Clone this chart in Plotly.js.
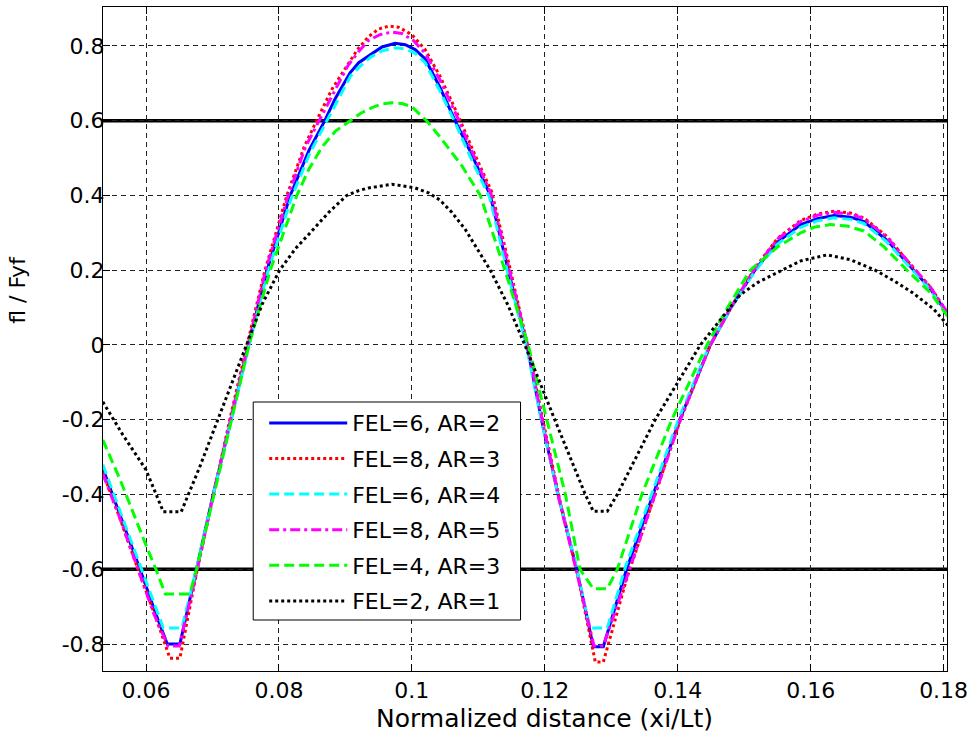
<!DOCTYPE html>
<html>
<head>
<meta charset="utf-8">
<script src="https://cdn.plot.ly/plotly-3.0.1.min.js"></script>
<style>html,body{margin:0;padding:0;background:#fff;}#chart{width:971px;height:740px;}</style>
</head>
<body>
<div id="chart"></div>
<script>
// Series names
var names = ["FEL=6, AR=2", "FEL=8, AR=3", "FEL=6, AR=4", "FEL=8, AR=5", "FEL=4, AR=3", "FEL=2, AR=1"];

// FEL=6, AR=2 (blue)
var bx = [0.0535, 0.056, 0.0591, 0.0615, 0.0632, 0.0651, 0.0676, 0.0701, 0.0728, 0.0754, 0.0782, 0.0817, 0.0845, 0.0869, 0.0885, 0.0907, 0.092, 0.0937, 0.0955, 0.0975, 0.099, 0.1005, 0.102, 0.1042, 0.1065, 0.109, 0.1118, 0.1145, 0.1173, 0.1195, 0.122, 0.1248, 0.1273, 0.1288, 0.1323, 0.1363, 0.1403, 0.1449, 0.148, 0.1516, 0.155, 0.1585, 0.161, 0.1635, 0.166, 0.168, 0.1715, 0.1755, 0.178, 0.181];
var by = [-0.33, -0.45, -0.60, -0.72, -0.80, -0.80, -0.60, -0.40, -0.20, 0.0, 0.20, 0.40, 0.52, 0.60, 0.66, 0.728, 0.755, 0.776, 0.797, 0.807, 0.803, 0.79, 0.765, 0.69, 0.60, 0.51, 0.40, 0.20, 0.0, -0.20, -0.40, -0.60, -0.807, -0.807, -0.60, -0.40, -0.20, 0.0, 0.10, 0.20, 0.275, 0.322, 0.338, 0.346, 0.342, 0.33, 0.28, 0.20, 0.15, 0.072];

// FEL=8, AR=3 (red)
var rx = [0.0535, 0.056, 0.059, 0.0615, 0.0636, 0.0651, 0.0676, 0.0700, 0.0726, 0.0752, 0.0779, 0.0812, 0.0838, 0.0862, 0.088, 0.090, 0.0918, 0.0935, 0.095, 0.0965, 0.098, 0.1, 0.102, 0.1042, 0.1068, 0.1092, 0.112, 0.1147, 0.1174, 0.1197, 0.1222, 0.125, 0.1276, 0.1288, 0.1324, 0.1364, 0.1404, 0.1449, 0.148, 0.1516, 0.155, 0.1585, 0.161, 0.1635, 0.166, 0.168, 0.1715, 0.1755, 0.178, 0.181];
var ry = [-0.34, -0.46, -0.61, -0.73, -0.838, -0.838, -0.61, -0.41, -0.20, 0.0, 0.20, 0.40, 0.53, 0.62, 0.685, 0.74, 0.79, 0.825, 0.845, 0.853, 0.85, 0.83, 0.79, 0.72, 0.62, 0.52, 0.41, 0.21, 0.0, -0.20, -0.41, -0.62, -0.848, -0.848, -0.62, -0.41, -0.20, 0.0, 0.10, 0.205, 0.285, 0.333, 0.35, 0.358, 0.353, 0.34, 0.29, 0.205, 0.155, 0.075];

// FEL=6, AR=4 (cyan)
var cx = [0.0535, 0.056, 0.0592, 0.061, 0.0626, 0.0654, 0.0677, 0.0702, 0.0729, 0.0755, 0.0783, 0.0819, 0.0847, 0.0871, 0.0888, 0.0908, 0.0922, 0.0938, 0.0956, 0.0975, 0.099, 0.1005, 0.102, 0.1042, 0.1065, 0.109, 0.1117, 0.1144, 0.1172, 0.1194, 0.1219, 0.1247, 0.1268, 0.1294, 0.1322, 0.1362, 0.1402, 0.1448, 0.148, 0.1516, 0.155, 0.1585, 0.161, 0.1635, 0.166, 0.168, 0.1715, 0.1755, 0.178, 0.181];
var cy = [-0.32, -0.44, -0.59, -0.68, -0.757, -0.757, -0.59, -0.395, -0.195, 0.0, 0.195, 0.395, 0.515, 0.595, 0.65, 0.72, 0.745, 0.77, 0.787, 0.795, 0.792, 0.78, 0.755, 0.68, 0.595, 0.495, 0.395, 0.195, 0.0, -0.195, -0.395, -0.59, -0.757, -0.757, -0.59, -0.395, -0.195, 0.0, 0.098, 0.197, 0.27, 0.315, 0.332, 0.34, 0.336, 0.325, 0.275, 0.197, 0.148, 0.07];

// FEL=8, AR=5 (magenta)
var mx = [0.0535, 0.056, 0.059, 0.0612, 0.0633, 0.065, 0.0676, 0.07, 0.0727, 0.0753, 0.078, 0.0814, 0.084, 0.0865, 0.0883, 0.0903, 0.092, 0.0935, 0.0952, 0.097, 0.0985, 0.1002, 0.102, 0.1042, 0.1067, 0.1091, 0.1119, 0.1146, 0.1174, 0.1196, 0.1221, 0.1249, 0.1274, 0.1288, 0.1324, 0.1364, 0.1404, 0.1449, 0.148, 0.1516, 0.155, 0.1585, 0.161, 0.1635, 0.166, 0.168, 0.1715, 0.1755, 0.178, 0.181];
var my = [-0.345, -0.46, -0.61, -0.72, -0.805, -0.805, -0.61, -0.41, -0.20, 0.0, 0.20, 0.40, 0.53, 0.615, 0.675, 0.745, 0.785, 0.815, 0.83, 0.837, 0.833, 0.815, 0.78, 0.71, 0.615, 0.515, 0.405, 0.205, 0.0, -0.20, -0.41, -0.615, -0.805, -0.805, -0.615, -0.41, -0.20, 0.0, 0.10, 0.205, 0.283, 0.33, 0.347, 0.355, 0.35, 0.338, 0.288, 0.205, 0.155, 0.075];

// FEL=4, AR=3 (green)
var gx = [0.0535, 0.0561, 0.0601, 0.0615, 0.0629, 0.0666, 0.0676, 0.0702, 0.0728, 0.0755, 0.0787, 0.0827, 0.0845, 0.0865, 0.0885, 0.0907, 0.0925, 0.094, 0.0955, 0.097, 0.0985, 0.100, 0.1022, 0.1042, 0.1075, 0.1103, 0.112, 0.114, 0.1175, 0.1203, 0.1231, 0.1253, 0.1273, 0.1294, 0.1309, 0.1346, 0.1391, 0.1444, 0.1475, 0.1509, 0.155, 0.1585, 0.1605, 0.163, 0.1655, 0.168, 0.171, 0.1745, 0.178, 0.181];
var gy = [-0.254, -0.36, -0.54, -0.60, -0.666, -0.666, -0.60, -0.40, -0.20, 0.0, 0.20, 0.40, 0.47, 0.53, 0.572, 0.60, 0.622, 0.635, 0.645, 0.648, 0.646, 0.637, 0.60, 0.557, 0.48, 0.40, 0.31, 0.20, 0.0, -0.20, -0.40, -0.60, -0.652, -0.652, -0.60, -0.40, -0.20, 0.0, 0.10, 0.20, 0.262, 0.30, 0.315, 0.322, 0.318, 0.305, 0.263, 0.20, 0.14, 0.067];

// FEL=2, AR=1 (black)
var kx = [0.0535, 0.0565, 0.06, 0.0626, 0.0653, 0.068, 0.0708, 0.0752, 0.0775, 0.0801, 0.0825, 0.0847, 0.0875, 0.0902, 0.092, 0.0935, 0.097, 0.1005, 0.1025, 0.1042, 0.106, 0.108, 0.1118, 0.1145, 0.117, 0.1215, 0.1261, 0.1273, 0.1294, 0.1309, 0.1366, 0.1434, 0.1465, 0.1494, 0.152, 0.1547, 0.1585, 0.1625, 0.166, 0.1697, 0.1725, 0.1754, 0.1785, 0.181];
var ky = [-0.152, -0.24, -0.334, -0.446, -0.446, -0.33, -0.2, 0.0, 0.11, 0.2, 0.258, 0.30, 0.355, 0.40, 0.413, 0.42, 0.43, 0.42, 0.407, 0.388, 0.355, 0.31, 0.2, 0.105, 0.0, -0.2, -0.4, -0.445, -0.445, -0.4, -0.2, 0.0, 0.07, 0.134, 0.167, 0.192, 0.225, 0.241, 0.228, 0.2, 0.172, 0.139, 0.096, 0.045];

// Limit lines
var limitValues = [0.6, -0.6];

// Ticks
var xTickVals = [0.06, 0.08, 0.1, 0.12, 0.14, 0.16, 0.18];
var xTickText = ["0.06", "0.08", "0.1", "0.12", "0.14", "0.16", "0.18"];
var yTickVals = [-0.8, -0.6, -0.4, -0.2, 0, 0.2, 0.4, 0.6, 0.8];
var yTickText = ["-0.8", "-0.6", "-0.4", "-0.2", "0", "0.2", "0.4", "0.6", "0.8"];

var xs = [bx, rx, cx, mx, gx, kx];
var ys = [by, ry, cy, my, gy, ky];
var colors = ["#0000ff", "#ff0000", "#00ffff", "#ff00ff", "#00ff00", "#000000"];
var dashes = ["solid", "3px,3px", "10px,5px", "10px,4px,3px,4px", "10px,5px", "3px,3px"];

var FONT = "DejaVu Sans, Verdana, sans-serif";

var traces = names.map(function(n, i) {
  return {
    x: xs[i], y: ys[i], name: n, type: "scatter", mode: "lines",
    legendgroup: "g" + i,
    line: {color: colors[i], width: 3, dash: dashes[i]}
  };
});

var shapes = limitValues.map(function(v) {
  return {type: "line", xref: "paper", x0: 0, x1: 1, yref: "y", y0: v, y1: v,
          line: {color: "#000", width: 3.5}, layer: "between"};
});
// legend frame
shapes.push({type: "rect", xref: "paper", yref: "paper",
  x0: 0.178, x1: 0.4947, y0: 0.0768, y1: 0.4051,
  fillcolor: "#fff", line: {color: "#000", width: 1}, layer: "above"});

var axisCommon = {
  showline: true, linecolor: "#000", linewidth: 1, mirror: "ticks",
  ticks: "inside", ticklen: 7, tickcolor: "#000", tickwidth: 1,
  showgrid: true, gridcolor: "#222", gridwidth: 1, griddash: "5px,4px",
  zeroline: false, tickfont: {family: FONT, size: 22, color: "#000"}
};

var layout = {
  width: 971, height: 740,
  margin: {l: 103, r: 24, t: 7, b: 69},
  paper_bgcolor: "#fff", plot_bgcolor: "#fff",
  showlegend: true,
  xaxis: Object.assign({}, axisCommon, {
    range: [0.05353, 0.18051], tickmode: "array", tickvals: xTickVals, ticktext: xTickText
  }),
  yaxis: Object.assign({}, axisCommon, {
    range: [-0.872, 0.904], tickmode: "array", tickvals: yTickVals, ticktext: yTickText,
    ticklabelstandoff: -7
  }),
  shapes: shapes,
  annotations: [
    {text: "Normalized distance (xi/Lt)", xref: "paper", yref: "paper", x: 0.5231, y: -0.0708,
     xanchor: "center", yanchor: "middle", showarrow: false,
     font: {family: FONT, size: 25, color: "#000"}},
    {text: "fl / Fyf", xref: "paper", yref: "paper", x: -0.1008, y: 0.574, textangle: -90,
     xanchor: "center", yanchor: "middle", showarrow: false,
     font: {family: FONT, size: 22, color: "#000"}}
  ],
  legend: {
    x: 0.191, y: 0.405, xanchor: "left", yanchor: "top",
    bgcolor: "rgba(0,0,0,0)", borderwidth: 0,
    font: {family: FONT, size: 22, color: "#000"},
    traceorder: "grouped", tracegroupgap: 4, itemwidth: 78
  }
};

Plotly.newPlot("chart", traces, layout, {displayModeBar: false, staticPlot: true});
</script>
</body>
</html>
